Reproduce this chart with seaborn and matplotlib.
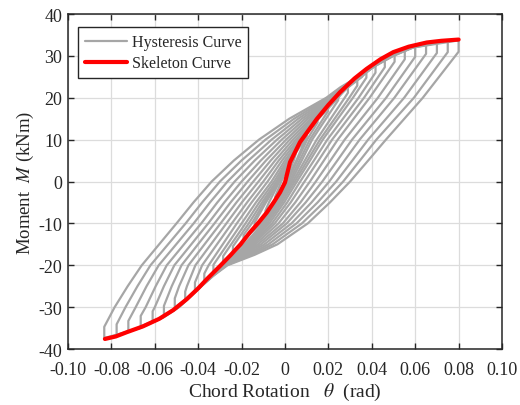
import numpy as np
import pandas as pd
import matplotlib
matplotlib.use("Agg")
import matplotlib.pyplot as plt
from matplotlib.lines import Line2D
import seaborn as sns

# ---------------- data ----------------
# Skeleton (envelope) curve
sk_theta = [-0.0830, -0.0780, -0.0730, -0.0655, -0.0580, -0.0515, -0.0453, -0.0400,
            -0.0360, -0.0300, -0.0253, -0.0205, -0.0161, -0.0120, -0.0084, -0.0050,
            -0.0023, 0.0000, 0.0023, 0.0069, 0.0146, 0.0200, 0.0253, 0.0320, 0.0376,
            0.0440, 0.0499, 0.0570, 0.0653, 0.0720, 0.0800]
sk_M = [-37.6, -37.0, -36.0, -34.6, -32.8, -30.7, -28.1, -25.5,
        -23.3, -20.2, -17.7, -15.0, -12.1, -9.7, -7.4, -4.8,
        -2.6, -0.2, 4.6, 9.4, 14.9, 18.3, 21.3, 24.6, 26.9,
        29.2, 30.9, 32.2, 33.2, 33.6, 33.9]

# Hysteresis loops: tips (outermost loop first)
theta_p = [0.0800, 0.0750, 0.0700, 0.0650, 0.0600, 0.0552, 0.0505, 0.0460, 0.0417,
           0.0375, 0.0333, 0.0290, 0.0245, 0.0198, 0.0150, 0.0100, 0.0050]
M_p = [33.7, 33.5, 33.2, 33.0, 32.2, 31.5, 30.8, 29.4, 28.0,
       26.7, 24.7, 22.8, 20.8, 18.0, 15.1, 11.6, 7.4]
theta_n = [-0.0833, -0.0776, -0.0722, -0.0665, -0.0610, -0.0558, -0.0508, -0.0460, -0.0415,
           -0.0372, -0.0330, -0.0285, -0.0240, -0.0190, -0.0140, -0.0090, -0.0045]
M_n = [-37.4, -36.7, -35.8, -34.6, -33.4, -32.0, -30.1, -28.4, -26.1,
       -23.9, -21.7, -19.4, -16.9, -13.9, -10.8, -7.8, -4.3]
tip_drop = [2.7, 2.6, 2.5, 2.5, 2.4, 2.3, 2.2, 2.1, 2.0, 1.9, 1.8, 1.6, 1.4, 1.2, 1.0, 0.9, 0.7]

N = None
# Rotation where the unloading (lower) branch of each loop crosses a moment level
lo_p30 = [0.0785, 0.0737, 0.0690, N, N, N, N, N, N, N, N, N, N, N, N, N, N]
lo_p20 = [0.0635, 0.0594, 0.0549, 0.0504, 0.0466, 0.0428, 0.0390, 0.0364, 0.0339,
          0.0313, 0.0296, 0.0275, N, N, N, N, N]
lo_p10 = [0.0465, 0.0421, 0.0383, 0.0344, 0.0309, 0.0275, 0.0243, 0.0217, 0.0195,
          0.0174, 0.0161, 0.0146, 0.0125, 0.0114, 0.0102, N, N]
lo_p5 = [0.0383, 0.0345, 0.0310, 0.0274, 0.0241, 0.0209, 0.0179, 0.0154, 0.0133,
         0.0115, 0.0103, 0.0091, 0.0077, 0.0067, 0.0057, 0.0052, 0.0040]
lo_0 = [0.0300, 0.0268, 0.0236, 0.0204, 0.0172, 0.0142, 0.0115, 0.0090, 0.0070,
        0.0055, 0.0045, 0.0036, 0.0028, 0.0020, 0.0012, 0.0005, 0.0000]
lo_m5 = [0.0207, 0.0178, 0.0150, 0.0122, 0.0095, 0.0071, 0.0047, 0.0026, 0.0010,
         -0.0004, -0.0014, -0.0023, -0.0031, -0.0039, -0.0048, -0.0050, N]
lo_m10 = [0.0105, 0.0078, 0.0053, 0.0030, 0.0008, -0.0010, -0.0030, -0.0047, -0.0060,
          -0.0072, -0.0082, -0.0091, -0.0099, -0.0107, -0.0118, N, N]
lo_m15 = [-0.0035, -0.0057, -0.0077, -0.0095, -0.0111, -0.0125, -0.0137, -0.0147, -0.0156,
          -0.0164, -0.0171, -0.0178, -0.0188, N, N, N, N]
lo_m175 = [-0.0140, -0.0155, -0.0167, -0.0178, -0.0188, -0.0196, -0.0204, -0.0210, -0.0216,
           -0.0221, -0.0226, -0.0233, N, N, N, N, N]
lo_m20 = [-0.0265, -0.0270, -0.0274, -0.0278, -0.0281, -0.0284, -0.0287, -0.0290, -0.0292,
          -0.0294, -0.0297, N, N, N, N, N, N]
lo_m225 = [-0.0330, -0.0331, -0.0332, -0.0333, -0.0334, -0.0335, -0.0336, -0.0337, -0.0338,
           -0.0340, N, N, N, N, N, N, N]
lo_m25 = [-0.0385, -0.0386, -0.0387, -0.0388, -0.0389, -0.0389, -0.0390, -0.0390, -0.0391,
          N, N, N, N, N, N, N, N]
lo_m275 = [-0.0436, -0.0437, -0.0438, -0.0439, -0.0440, -0.0440, -0.0441, -0.0441,
           N, N, N, N, N, N, N, N, N]
lo_m30 = [-0.0488, -0.0490, -0.0492, -0.0494, -0.0496, -0.0498, N, N, N, N, N, N, N, N, N, N, N]
lo_m325 = [-0.0562, -0.0564, -0.0566, -0.0568, -0.0570, N, N, N, N, N, N, N, N, N, N, N, N]
lo_m35 = [-0.0668, -0.0672, -0.0676, N, N, N, N, N, N, N, N, N, N, N, N, N, N]

# Rotation where the reloading (upper) branch of each loop crosses a moment level
up_m30 = [-0.0785, -0.0735, -0.0688, -0.0642, -0.0600, N, N, N, N, N, N, N, N, N, N, N, N]
up_m25 = [-0.0725, -0.0680, -0.0638, -0.0596, -0.0558, -0.0522, -0.0488, -0.0452,
          N, N, N, N, N, N, N, N, N]
up_m20 = [-0.0660, -0.0620, -0.0582, -0.0545, -0.0510, -0.0477, -0.0445, -0.0413, -0.0382,
          -0.0352, N, N, N, N, N, N, N]
up_m10 = [-0.0500, -0.0458, -0.0421, -0.0386, -0.0354, -0.0325, -0.0297, -0.0270, -0.0245,
          -0.0222, -0.0200, -0.0182, -0.0167, -0.0153, N, N, N]
up_m5 = [-0.0422, -0.0382, -0.0346, -0.0312, -0.0280, -0.0251, -0.0224, -0.0199, -0.0175,
         -0.0154, -0.0134, -0.0119, -0.0106, -0.0096, -0.0088, -0.0074, N]
up_0 = [-0.0338, -0.0300, -0.0265, -0.0232, -0.0200, -0.0172, -0.0146, -0.0122, -0.0100,
        -0.0080, -0.0062, -0.0050, -0.0040, -0.0033, -0.0028, -0.0025, -0.0017]
up_p5 = [-0.0236, -0.0201, -0.0169, -0.0140, -0.0112, -0.0088, -0.0066, -0.0046, -0.0029,
         -0.0014, -0.0001, 0.0009, 0.0016, 0.0021, 0.0024, 0.0028, 0.0024]
up_p10 = [-0.0120, -0.0090, -0.0062, -0.0037, -0.0015, 0.0005, 0.0022, 0.0037, 0.0050,
          0.0060, 0.0068, 0.0074, 0.0078, 0.0080, 0.0082, 0.0088, N]
up_p15 = [0.0020, 0.0042, 0.0061, 0.0078, 0.0093, 0.0106, 0.0118, 0.0128, 0.0137,
          0.0144, 0.0150, 0.0155, 0.0153, 0.0148, N, N, N]
up_p20 = [0.0190, 0.0198, 0.0205, 0.0212, 0.0218, 0.0223, 0.0228, 0.0232, 0.0236,
          0.0239, 0.0242, 0.0245, 0.0236, N, N, N, N]
up_p225 = [0.0255, 0.0261, 0.0266, 0.0270, 0.0274, 0.0278, 0.0282, 0.0285, 0.0288,
           0.0291, 0.0286, N, N, N, N, N, N]
up_p25 = [0.0336, 0.0338, 0.0340, 0.0342, 0.0344, 0.0346, 0.0348, 0.0350, 0.0352,
          0.0355, N, N, N, N, N, N, N]
up_p275 = [0.0412, 0.0411, 0.0410, 0.0410, 0.0410, 0.0410, 0.0411, 0.0408,
           N, N, N, N, N, N, N, N, N]
up_p30 = [0.0500, 0.0496, 0.0492, 0.0489, 0.0486, 0.0484, 0.0485, N, N, N, N, N, N, N, N, N, N]
up_p32 = [0.0590, 0.0588, 0.0586, 0.0584, N, N, N, N, N, N, N, N, N, N, N, N, N]

x_ticks = [-0.10, -0.08, -0.06, -0.04, -0.02, 0.0, 0.02, 0.04, 0.06, 0.08, 0.10]
x_tick_labels = ["-0.10", "-0.08", "-0.06", "-0.04", "-0.02", "0",
                 "0.02", "0.04", "0.06", "0.08", "0.10"]
y_ticks = [-40, -30, -20, -10, 0, 10, 20, 30, 40]

# ---------------- build loop table ----------------
lower_levels = [(30, lo_p30), (20, lo_p20), (10, lo_p10), (5, lo_p5), (0, lo_0),
                (-5, lo_m5), (-10, lo_m10), (-15, lo_m15), (-17.5, lo_m175),
                (-20, lo_m20), (-22.5, lo_m225), (-25, lo_m25), (-27.5, lo_m275),
                (-30, lo_m30), (-32.5, lo_m325), (-35, lo_m35)]
upper_levels = [(-30, up_m30), (-25, up_m25), (-20, up_m20), (-10, up_m10), (-5, up_m5),
                (0, up_0), (5, up_p5), (10, up_p10), (15, up_p15), (20, up_p20),
                (22.5, up_p225), (25, up_p25), (27.5, up_p275), (30, up_p30), (32, up_p32)]

rows = []
for k in range(len(theta_p)):
    pts = [(theta_p[k], M_p[k]), (theta_p[k], M_p[k] - tip_drop[k])]
    for lvl, arr in lower_levels:
        if arr[k] is not None:
            pts.append((arr[k], lvl))
    pts.append((theta_n[k], M_n[k]))
    pts.append((theta_n[k], M_n[k] + tip_drop[k]))
    for lvl, arr in upper_levels:
        if arr[k] is not None:
            pts.append((arr[k], lvl))
    pts.append((theta_p[k], M_p[k]))
    for i, (t, m) in enumerate(pts):
        rows.append({"loop": k, "order": i, "theta": t, "M": m})
loops = pd.DataFrame(rows)
skeleton = pd.DataFrame({"theta": sk_theta, "M": sk_M})

# ---------------- plot ----------------
sns.set_theme(style="ticks")
plt.rcParams["font.family"] = ["Liberation Serif", "DejaVu Serif"]
plt.rcParams["mathtext.fontset"] = "stix"
plt.rcParams["axes.unicode_minus"] = False

fig = plt.figure(figsize=(5.2, 4.06), dpi=100)
ax = fig.add_axes([0.1308, 0.1379, 0.8346, 0.8251])

gray = "#A6A6A6"
red = "#FF0000"

sns.lineplot(data=loops, x="theta", y="M", units="loop", estimator=None, sort=False,
             color=gray, linewidth=1.6, ax=ax, legend=False, zorder=2,
             solid_joinstyle="round")
sns.lineplot(data=skeleton, x="theta", y="M", estimator=None, sort=False,
             color=red, linewidth=3.0, ax=ax, legend=False, zorder=3,
             solid_joinstyle="round", solid_capstyle="round")

ax.set_xlim(-0.1, 0.1)
ax.set_ylim(-40, 40)
ax.set_xticks(x_ticks)
ax.set_xticklabels(x_tick_labels)
ax.set_yticks(y_ticks)
ax.grid(True, color="#DCDCDC", linewidth=0.9)
ax.set_axisbelow(True)
for sp in ax.spines.values():
    sp.set_visible(True)
    sp.set_color("#262626")
    sp.set_linewidth(1.1)
ax.tick_params(direction="in", top=True, right=True, length=4, width=1.0,
               labelsize=13, colors="#262626")
ax.tick_params(axis="x", pad=8.5)
ax.tick_params(axis="y", pad=4)
ax.set_xlabel(r"Chord Rotation   $\theta$  (rad)", fontsize=14, color="#262626", labelpad=2)
ax.set_ylabel(r"Moment  $M$ (kNm)", fontsize=13.5, color="#262626", labelpad=2)

handles = [Line2D([0], [0], color=gray, linewidth=1.6),
           Line2D([0], [0], color=red, linewidth=3.0)]
leg = ax.legend(handles, ["Hysteresis Curve", "Skeleton Curve"], loc="upper left",
                bbox_to_anchor=(0.012, 0.975), fontsize=11.5, frameon=True, fancybox=False,
                edgecolor="#262626", framealpha=1, borderpad=0.45, handlelength=2.6,
                handletextpad=0.3, labelspacing=0.3, borderaxespad=0.3)
leg.get_frame().set_linewidth(1.0)

fig.savefig("out.png", dpi=100)
